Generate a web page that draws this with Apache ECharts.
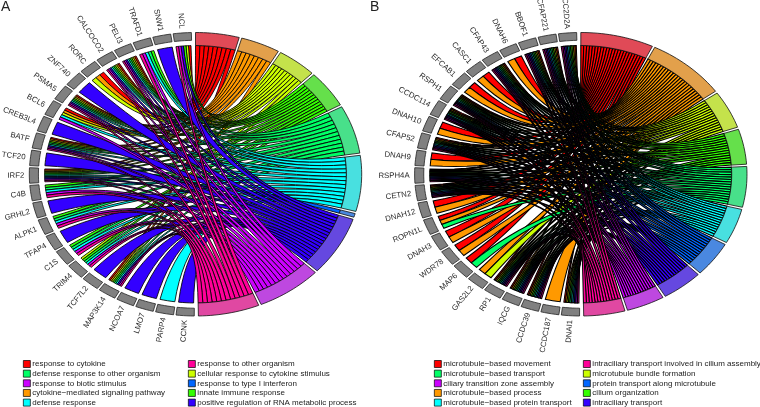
<!DOCTYPE html>
<html><head><meta charset="utf-8">
<style>html,body{margin:0;padding:0;background:#fff}#c{width:760px;height:407px}</style>
<script src="https://cdn.jsdelivr.net/npm/echarts@6/dist/echarts.min.js"></script>
</head><body><div id="c"></div>
<script>
// Term order clockwise round the right half, colours are R's rainbow(10) and its muted arc shade
const ribbonColors=['#FF0000','#FF9900','#CCFF00','#33FF00','#00FF66','#00FFFF','#0066FF','#3300FF','#CC00FF','#FF0099'];
const arcColors=['#E04A57','#E2A04B','#C4E24B','#65E04B','#48E08A','#48E0E0','#4A88E0','#6548E0','#BE48E0','#E048A2'];

const termsA=['response to cytokine','cytokine\u2212mediated signaling pathway','cellular response to cytokine stimulus','innate immune response','defense response to other organism','defense response','response to type I interferon','positive regulation of RNA metabolic process','response to biotic stimulus','response to other organism'];
const termSizesA=[10,9,9,10,13,15,1,16,15,14];
// genes listed from the bottom of the left half up to the top
const genesA=['CCNK','PARP4','LMO7','NCOA7','MAP3K14','TCF7L2','TRIM4','C1S','TFAP4','ALPK1','GRHL2','C4B','IRF2','TCF20','BATF','CREB3L4','BCL6','PSMA5','ZNF740','RORC','CALCOCO2','PELI3','TRAFD1','SNW1','NCL'];
const membersA=[[7],[5],[7],[7],[0,1,2,3,4,5,7,8,9],[7],[2,3,4,5,8,9],[3,4,5,8,9],[7],[3,4,5,8,9],[7],[3,4,5,8,9],[0,1,2,3,4,5,6,7,8,9],[7],[0,1,2,3,4,5,7,8,9],[7],[0,1,2,5,8],[0,1,2,3,4,5,7,8,9],[7],[0,1,2],[0,1,2,3,4,5,7,8,9],[0,1,2,3,4,5,7,8,9],[3,4,5,8,9],[7],[0,2,3,7,8,9]];
const legendA1=['response to cytokine','defense response to other organism','response to biotic stimulus','cytokine\u2212mediated signaling pathway','defense response'];
const legendA2=['response to other organism','cellular response to cytokine stimulus','response to type I interferon','innate immune response','positive regulation of RNA metabolic process'];

const termsB=['microtubule\u2212based movement','microtubule\u2212based process','microtubule bundle formation','cilium organization','microtubule\u2212based transport','microtubule\u2212based protein transport','protein transport along microtubule','intraciliary transport','ciliary transition zone assembly','intraciliary transport involved in cilium assembly'];
const termSizesB=[23,25,14,13,15,13,13,13,12,13];
const genesB=['DNAI1','CCDC187','CCDC39','IQCG','RP1','GAS2L2','MAP6','WDR78','DNAH3','ROPN1L','DNAH12','CETN2','RSPH4A','DNAH9','CFAP52','DNAH10','CCDC114','RSPH1','EFCAB1','CASC1','CFAP43','DNAH6','BBOF1','CFAP221','CC2D2A'];
const allB=[0,1,2,3,4,5,6,7,8,9];
const membersB=[allB,[1],allB,allB,allB,[1,2],[0,4],[0,1],[0,1],[0,1,4],[0,1],allB,allB,[0,1],allB,[0,1],allB,allB,[0,1],[0,1],allB,[0,1],allB,allB,allB];
const legendB1=['microtubule\u2212based movement','microtubule\u2212based transport','ciliary transition zone assembly','microtubule\u2212based process','microtubule\u2212based protein transport'];
const legendB2=['intraciliary transport involved in cilium assembly','microtubule bundle formation','protein transport along microtubule','cilium organization','intraciliary transport'];

const rad=Math.PI/180, R_OUT=1, R_GENE=0.945, R_RIB=0.908, R_LAB=1.03;
const TERM_SPAN=179, TERM_GAP=0.9, GENE_START=180, GENE_SPAN=179, GENE_FILL=0.88, RIB_FILL=0.8;
const font='Liberation Sans, Arial, sans-serif';
const pt=(a,r)=>[r*Math.sin(a*rad),r*Math.cos(a*rad)];
function arcPts(a0,a1,r){const n=Math.max(2,Math.ceil(Math.abs(a1-a0)/1.5));const o=[];for(let i=0;i<=n;i++)o.push(pt(a0+(a1-a0)*i/n,r));return o;}
function band(a0,a1,r0,r1){return arcPts(a0,a1,r1).concat(arcPts(a1,a0,r0));}
function bez(P0,P2){const o=[];for(let i=1;i<24;i++){const s=i/24,u=(1-s)*(1-s),v=s*s;o.push([u*P0[0]+v*P2[0],u*P0[1]+v*P2[1]]);}return o;}
function ribbon(a0,a1,g0,g1){
  const A0=pt(a0,R_RIB),A1=pt(a1,R_RIB),G0=pt(g0,R_RIB),G1=pt(g1,R_RIB);
  return arcPts(a0,a1,R_RIB).concat(bez(A1,G0),arcPts(g0,g1,R_RIB),bez(G1,A0));
}
function polyItem(pts,api,style){
  return {type:'polygon',shape:{points:pts.map(p=>api.coord(p))},style:style};
}
function panel(idx,terms,sizes,genes,members,lw){
  const series=[];
  const total=sizes.reduce((a,b)=>a+b,0);
  const unit=(TERM_SPAN-TERM_GAP*(terms.length-1))/total;
  const tStart=[];let c=0;sizes.forEach(s=>{tStart.push(c);c+=s*unit+TERM_GAP;});
  const pitch=GENE_SPAN/genes.length;
  const ribs=terms.map(()=>[]);
  const byTerm=terms.map((_,t)=>{const o=[];for(let g=genes.length-1;g>=0;g--)if(members[g].includes(t))o.push(g);return o;});
  byTerm.forEach((list,t)=>{
    const w=sizes[t]*unit/list.length;
    list.forEach((g,i)=>{
      const ms=members[g].slice().sort((a,b)=>b-a);
      const gw=pitch*RIB_FILL/ms.length, g0=GENE_START+g*pitch+pitch*(1-RIB_FILL)/2+ms.indexOf(t)*gw;
      ribs[t].push([tStart[t]+i*w,tStart[t]+(i+1)*w,g0,g0+gw]);
    });
  });
  terms.forEach((name,t)=>{
    series.push({type:'custom',name:name,coordinateSystem:'cartesian2d',xAxisIndex:idx,yAxisIndex:idx,clip:false,silent:true,animation:false,
      itemStyle:{color:ribbonColors[t]},data:ribs[t],
      renderItem:(p,api)=>polyItem(ribbon(api.value(0),api.value(1),api.value(2),api.value(3)),api,{fill:ribbonColors[t],stroke:'#000',lineWidth:lw})});
  });
  series.push({type:'custom',coordinateSystem:'cartesian2d',xAxisIndex:idx,yAxisIndex:idx,clip:false,silent:true,animation:false,
    data:sizes.map((s,t)=>[tStart[t],tStart[t]+s*unit,t]),
    renderItem:(p,api)=>polyItem(band(api.value(0),api.value(1),R_RIB,R_OUT),api,{fill:arcColors[api.value(2)],stroke:'#111',lineWidth:0.8})});
  series.push({type:'custom',coordinateSystem:'cartesian2d',xAxisIndex:idx,yAxisIndex:idx,clip:false,silent:true,animation:false,
    data:genes.map((g,i)=>[i]),
    renderItem:(p,api)=>{
      const i=api.value(0),a0=GENE_START+i*pitch+pitch*(1-GENE_FILL)/2,a1=a0+pitch*GENE_FILL,m=(a0+a1)/2;
      const q=api.coord(pt(m,R_LAB));
      return {type:'group',children:[
        polyItem(band(a0,a1,R_GENE,R_OUT),api,{fill:'#808080',stroke:'#222',lineWidth:0.8}),
        {type:'text',x:q[0],y:q[1],rotation:Math.atan2(-Math.cos(m*rad),-Math.sin(m*rad)),
         style:{text:genes[i],align:'right',verticalAlign:'middle',fontFamily:font,fontSize:7.8,fill:'#2a2a2a'}}
      ]};
    }});
  return series;
}
const series=panel(0,termsA,termSizesA,genesA,membersA,0.85).concat(panel(1,termsB,termSizesB,genesB,membersB,1.05));
const axis=i=>({type:'value',gridIndex:i,min:-1,max:1,show:false});
const leg=(data,left,top)=>({data:data,left:left,top:top,height:120,orient:'vertical',icon:'rect',padding:0,itemWidth:7,itemHeight:7,itemGap:1.65,selectedMode:false,
  itemStyle:{borderColor:'#000',borderWidth:0.7},textStyle:{fontFamily:font,fontSize:8,color:'#222',padding:[0,0,0,-3],lineHeight:7,height:7}});
const chart=echarts.init(document.getElementById('c'),null,{renderer:'canvas'});
chart.setOption({
  animation:false,backgroundColor:'#fff',
  grid:[{left:29.3,top:32.5,width:332.4,height:283.5},{left:414.6,top:32.5,width:332.4,height:283.5}],
  xAxis:[axis(0),axis(1)],yAxis:[axis(0),axis(1)],
  legend:[leg(legendA1,23,360),leg(legendA2,188,360),leg(legendB1,434,360),leg(legendB2,583,360)],
  graphic:[
    {type:'text',left:1,top:0,style:{text:'A',fontFamily:font,fontSize:14,fill:'#222'}},
    {type:'text',left:370,top:0,style:{text:'B',fontFamily:font,fontSize:14,fill:'#222'}}
  ],
  series:series
});
</script></body></html>
